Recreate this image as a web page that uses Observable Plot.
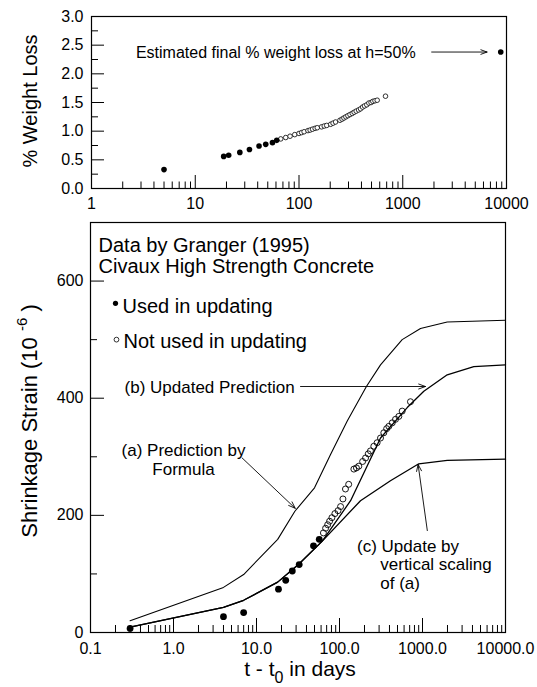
<!DOCTYPE html>
<html><head><meta charset="utf-8">
<script src="https://cdn.jsdelivr.net/npm/d3@7"></script>
<script src="https://cdn.jsdelivr.net/npm/@observablehq/plot@0.6"></script>
<style>
body{margin:0;background:#fff}
#chart{width:537px;height:687px;overflow:hidden}
#chart svg{display:block}
</style>
</head><body><div id="chart"></div>
<script>
// ---------- Top panel data: % weight loss vs time (days) ----------
const topUsedT = [5, 18.8, 21, 26.9, 33.3, 41.2, 47.8, 55.5, 61];
const topUsedW = [0.33, 0.56, 0.58, 0.63, 0.68, 0.74, 0.77, 0.80, 0.84];
const topNotT = [66.7, 74.5, 82, 91, 100, 106, 112, 122, 128, 135, 143, 150, 165, 175, 185, 202, 213, 225, 248, 260, 271, 283, 296, 310, 326, 340, 356, 375, 392, 410, 428, 450, 471, 495, 515, 540, 567, 682];
const topNotW = [0.865, 0.889, 0.912, 0.94, 0.96, 0.975, 0.99, 1.01, 1.02, 1.035, 1.05, 1.06, 1.075, 1.09, 1.10, 1.12, 1.14, 1.16, 1.19, 1.21, 1.23, 1.25, 1.27, 1.29, 1.31, 1.33, 1.35, 1.37, 1.39, 1.42, 1.44, 1.46, 1.49, 1.50, 1.52, 1.53, 1.54, 1.61];
const estFinalT = [8800];
const estFinalW = [2.38];
const topXTickLabels = [1, 10, 100, 1000, 10000];
const topYTickLabels = [0, 0.5, 1, 1.5, 2, 2.5, 3];

// ---------- Bottom panel data: shrinkage strain (1e-6) vs time ----------
const usedT = [0.3, 4, 7, 18.4, 22.5, 27, 32.7, 48.6, 57];
const usedS = [7, 27, 34, 74, 89, 105, 116, 148, 159];
const notT = [64, 68, 72, 76, 81, 88, 96, 103, 110, 118, 129, 149, 160, 171, 190, 206, 222, 236, 259, 284, 312, 342, 370, 393, 432, 473, 519, 569, 716];
const notS = [170, 178, 184, 190, 196, 203, 208, 215, 228, 245, 253, 279, 281, 284, 292, 298, 305, 310, 318, 324, 332, 341, 348, 352, 358, 364, 369, 378, 394];
// (a) Prediction by formula
const curveAT = [0.3, 4, 7, 18, 29, 50, 78, 124, 211, 312, 569, 946, 1985, 10000];
const curveAS = [20, 77, 99, 159, 207, 247, 304, 361, 420, 457, 500, 519, 530, 533];
// (b) Updated prediction
const curveBT = [0.3, 4, 7, 18, 32, 62, 136, 312, 655, 1037, 1985, 4150, 10000];
const curveBS = [9, 43, 55, 86, 116, 156, 225, 332, 384, 412, 440, 454, 457];
// (c) Update by vertical scaling of (a)
const curveCT = [0.3, 4, 7, 18, 32, 62, 179, 411, 902, 1985, 10000];
const curveCS = [9, 43, 55, 86, 116, 156, 225, 259, 288, 294, 296];
const botXTickLabels = [0.1, 1, 10, 100, 1000, 10000];
const botYTickLabels = [0, 200, 400, 600];

// annotations (data coordinates)
const botNotes = [
  {t: 0.125, s: 660, text: "Data by Granger (1995)", size: 20, anchor: "start"},
  {t: 0.125, s: 625, text: "Civaux High Strength Concrete", size: 20, anchor: "start"},
  {t: 0.243, s: 556, text: "Used in updating", size: 20, anchor: "start"},
  {t: 0.2496, s: 496, text: "Not used in updating", size: 20, anchor: "start"},
  {t: 0.257, s: 418, text: "(b) Updated Prediction", size: 17, anchor: "start"},
  {t: 1.32, s: 310, text: "(a) Prediction by", size: 17, anchor: "middle"},
  {t: 1.32, s: 279, text: "Formula", size: 17, anchor: "middle"},
  {t: 162.6, s: 147, text: "(c) Update by", size: 17, anchor: "start"},
  {t: 310, s: 116, text: "vertical scaling", size: 17, anchor: "start"},
  {t: 310, s: 83, text: "of (a)", size: 17, anchor: "start"}
];
const legendUsed = [{t: 0.2, s: 562}];
const legendNot = [{t: 0.2056, s: 500}];
const botArrows = [
  {x1: 33.9, y1: 420, x2: 1086, y2: 420},
  {x1: 6.71, y1: 298, x2: 29.3, y2: 212},
  {x1: 1143, y1: 174, x2: 885, y2: 287}
];
const topNote = [{t: 2.68, w: 2.36, text: "Estimated final % weight loss at h=50%"}];
const topArrow = [{x1: 1900, y1: 2.38, x2: 6500, y2: 2.38}];

const FONT = "'Liberation Sans', Arial, Helvetica, sans-serif";
const zip = (a, b) => a.map((v, i) => ({t: v, v: b[i]}));

function minorLog(lo, hi) {
  const out = [];
  for (let e = lo; e < hi; e++) for (let k = 2; k <= 9; k++) out.push(k * Math.pow(10, e));
  return out;
}

// ---------- Top plot ----------
const T = {w: 537, h: 216, mt: 16, mb: 28, ml: 91, mr: 31};
const tInnerH = T.h - T.mt - T.mb, tInnerW = T.w - T.ml - T.mr;
const topPlot = Plot.plot({
  width: T.w, height: T.h,
  marginTop: T.mt, marginBottom: T.mb, marginLeft: T.ml, marginRight: T.mr,
  style: {fontFamily: FONT, fontSize: "16px", color: "#000", background: "#fff"},
  x: {type: "log", domain: [1, 10000]},
  y: {domain: [0, 3]},
  marks: [
    Plot.axisX({ticks: topXTickLabels, tickFormat: d => String(d), tickSize: 0, tickPadding: 9, fontSize: 16, label: null}),
    Plot.axisY({ticks: topYTickLabels, tickFormat: d3.format(".1f"), tickSize: 0, tickPadding: 8, fontSize: 16, label: null}),
    Plot.tickX([10, 100, 1000], {x: d => d, insetTop: tInnerH - 13, stroke: "#000"}),
    Plot.tickX(minorLog(0, 4), {x: d => d, insetTop: tInnerH - 6.5, stroke: "#000"}),
    Plot.tickY(topYTickLabels, {y: d => d, insetRight: tInnerW - 13, stroke: "#000"}),
    Plot.tickY([0.25, 0.75, 1.25, 1.75, 2.25, 2.75], {y: d => d, insetRight: tInnerW - 7, stroke: "#000"}),
    Plot.frame({stroke: "#000", strokeWidth: 1.2}),
    Plot.dot(zip(topNotT, topNotW), {x: "t", y: "v", r: 2.3, stroke: "#000", fill: "#fff", strokeWidth: 0.8}),
    Plot.dot(zip(topUsedT, topUsedW), {x: "t", y: "v", r: 2.8, fill: "#000", stroke: "none"}),
    Plot.dot(zip(estFinalT, estFinalW), {x: "t", y: "v", r: 2.8, fill: "#000", stroke: "none"}),
    Plot.text(topNote, {x: "t", y: "w", text: "text", textAnchor: "start", fontSize: 16, fill: "#000"}),
    Plot.arrow(topArrow, {x1: "x1", y1: "y1", x2: "x2", y2: "y2", stroke: "#000", strokeWidth: 0.9, headLength: 11, headAngle: 40})
  ]
});

// ---------- Bottom plot ----------
const B = {w: 537, h: 471, mt: 6, mb: 55, ml: 90, mr: 32};
const bInnerH = B.h - B.mt - B.mb, bInnerW = B.w - B.ml - B.mr;
const botPlot = Plot.plot({
  width: B.w, height: B.h,
  marginTop: B.mt, marginBottom: B.mb, marginLeft: B.ml, marginRight: B.mr,
  style: {fontFamily: FONT, fontSize: "16px", color: "#000", background: "#fff", overflow: "visible"},
  x: {type: "log", domain: [0.1, 10000]},
  y: {domain: [0, 700]},
  marks: [
    Plot.axisX({ticks: botXTickLabels, tickFormat: d3.format(".1f"), tickSize: 0, tickPadding: 10, fontSize: 16, label: null}),
    Plot.axisY({ticks: botYTickLabels, tickFormat: d => String(d), tickSize: 0, tickPadding: 7, fontSize: 16, label: null}),
    Plot.tickX([1, 10, 100, 1000], {x: d => d, insetTop: bInnerH - 14, stroke: "#000"}),
    Plot.tickX(minorLog(-1, 4), {x: d => d, insetTop: bInnerH - 7, stroke: "#000"}),
    Plot.tickY(botYTickLabels, {y: d => d, insetRight: bInnerW - 14, stroke: "#000"}),
    Plot.tickY([100, 300, 500], {y: d => d, insetRight: bInnerW - 7, stroke: "#000"}),
    Plot.frame({stroke: "#000", strokeWidth: 1.2}),
    Plot.line(zip(curveAT, curveAS), {x: "t", y: "v", stroke: "#000", strokeWidth: 1.1}),
    Plot.line(zip(curveBT, curveBS), {x: "t", y: "v", stroke: "#000", strokeWidth: 1.3}),
    Plot.line(zip(curveCT, curveCS), {x: "t", y: "v", stroke: "#000", strokeWidth: 1.3}),
    Plot.dot(zip(notT, notS), {x: "t", y: "v", r: 3, stroke: "#000", fill: "none", strokeWidth: 0.9}),
    Plot.dot(zip(usedT, usedS), {x: "t", y: "v", r: 3.4, fill: "#000", stroke: "none"}),
    Plot.dot(legendUsed, {x: "t", y: "s", r: 2.6, fill: "#000", stroke: "none"}),
    Plot.dot(legendNot, {x: "t", y: "s", r: 2.4, fill: "none", stroke: "#000", strokeWidth: 0.8}),
    Plot.text(botNotes.filter(d => d.size === 20), {x: "t", y: "s", text: "text", textAnchor: "start", fontSize: 20, fill: "#000"}),
    Plot.text(botNotes.filter(d => d.size === 17 && d.anchor === "start"), {x: "t", y: "s", text: "text", textAnchor: "start", fontSize: 17, fill: "#000"}),
    Plot.text(botNotes.filter(d => d.size === 17 && d.anchor === "middle"), {x: "t", y: "s", text: "text", textAnchor: "middle", fontSize: 17, fill: "#000"}),
    Plot.arrow(botArrows, {x1: "x1", y1: "y1", x2: "x2", y2: "y2", stroke: "#000", strokeWidth: 0.9, headLength: 12, headAngle: 40})
  ]
});

const root = document.getElementById("chart");
root.appendChild(topPlot);
root.appendChild(botPlot);

// axis titles (with sub/superscripts)
const ts = d3.select(topPlot);
ts.append("text")
  .attr("transform", "translate(37,101) rotate(-90)")
  .attr("text-anchor", "middle")
  .attr("font-family", FONT).attr("font-size", 20).attr("fill", "#000")
  .text("% Weight Loss");

const bs = d3.select(botPlot);
const yl = bs.append("text")
  .attr("transform", "translate(37,205) rotate(-90)")
  .attr("text-anchor", "middle")
  .attr("font-family", FONT).attr("font-size", 22).attr("fill", "#000");
yl.append("tspan").text("Shrinkage Strain (10 ");
yl.append("tspan").attr("font-size", 15).attr("dy", -10).text("-6");
yl.append("tspan").attr("dy", 10).text(" )");

const xl = bs.append("text")
  .attr("transform", "translate(300,460)")
  .attr("text-anchor", "middle")
  .attr("font-family", FONT).attr("font-size", 21).attr("fill", "#000");
xl.append("tspan").text("t - t");
xl.append("tspan").attr("font-size", 16).attr("dy", 7).text("0");
xl.append("tspan").attr("dy", -7).text(" in days");
</script></body></html>
